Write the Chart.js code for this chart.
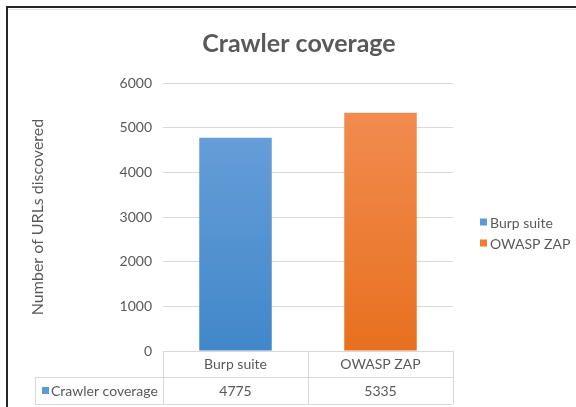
<!DOCTYPE html>
<html lang="en">
<head>
  <meta charset="UTF-8">
  <title>Crawler coverage</title>
  <script src="https://cdn.jsdelivr.net/npm/chart.js"></script>
  <style>
    html, body { margin: 0; padding: 0; background: #fff; }
    #wrap { position: relative; width: 576px; height: 407px; }
  </style>
</head>
<body>
  <div id="wrap"><canvas id="coverageChart"></canvas></div>

  <script>
    // Data
    const categories = ['Burp suite', 'OWASP ZAP'];
    const coverage = [4775, 5335];
    const seriesName = 'Crawler coverage';
    const yMax = 6000;
    const yStep = 1000;

    // Colours
    const topColors = ['#6fa3dc', '#f28f55'];
    const bottomColors = ['#4187c9', '#e8701f'];
    const keyColors = ['#5b9bd5', '#ed7d31'];
    const textColor = '#595959';
    const lineColor = '#d9d9d9';
    const font = 'Lato';

    // white page + black frame like the spreadsheet crop
    const framePlugin = {
      id: 'frame',
      beforeDraw(chart) {
        const ctx = chart.ctx;
        ctx.save();
        ctx.fillStyle = '#fff';
        ctx.fillRect(0, 0, chart.width, chart.height);
        ctx.strokeStyle = '#e6e6e6';
        ctx.lineWidth = 1;
        ctx.beginPath();
        ctx.moveTo(8, 9.5); ctx.lineTo(chart.width, 9.5);
        ctx.stroke();
        ctx.strokeStyle = '#262626';
        ctx.lineWidth = 2;
        ctx.beginPath();
        ctx.moveTo(7, chart.height); ctx.lineTo(7, 7); ctx.lineTo(chart.width, 7);
        ctx.stroke();
        ctx.restore();
      }
    };

    // data table under the x axis + legend on the right
    const tablePlugin = {
      id: 'dataTable',
      afterDraw(chart) {
        const ctx = chart.ctx;
        const x = chart.scales.x;
        const a = chart.chartArea;
        const step = x.getPixelForValue(1) - x.getPixelForValue(0);
        const edges = [x.getPixelForValue(0) - step / 2];
        categories.forEach((c, i) => edges.push(x.getPixelForValue(i) + step / 2));
        const y0 = a.bottom, y1 = a.bottom + 26, y2 = a.bottom + 53;
        const labelLeft = 35;

        ctx.save();
        ctx.strokeStyle = lineColor;
        ctx.lineWidth = 1;
        ctx.beginPath();
        edges.forEach(e => { ctx.moveTo(Math.round(e) + 0.5, y0); ctx.lineTo(Math.round(e) + 0.5, y2); });
        ctx.moveTo(labelLeft + 0.5, y1); ctx.lineTo(labelLeft + 0.5, y2);
        ctx.moveTo(labelLeft, y1 + 0.5); ctx.lineTo(edges[edges.length - 1], y1 + 0.5);
        ctx.moveTo(labelLeft, y2 + 0.5); ctx.lineTo(edges[edges.length - 1], y2 + 0.5);
        ctx.stroke();

        const ym = (y1 + y2) / 2;
        ctx.font = '14px ' + font;
        ctx.textBaseline = 'middle';
        ctx.fillStyle = keyColors[0];
        ctx.fillRect(labelLeft + 7, ym - 3.5, 7, 7);
        ctx.fillStyle = textColor;
        ctx.textAlign = 'left';
        ctx.fillText(seriesName, labelLeft + 16, ym + 1);
        ctx.textAlign = 'center';
        coverage.forEach((v, i) => ctx.fillText(String(v), x.getPixelForValue(i), ym + 1));

        // legend
        const lx = a.right + 27;
        categories.forEach((c, i) => {
          const ly = a.top + 139 + i * 21;
          ctx.fillStyle = keyColors[i];
          ctx.fillRect(lx, ly - 3.5, 7, 7);
          ctx.fillStyle = textColor;
          ctx.textAlign = 'left';
          ctx.fillText(c, lx + 10, ly + 1);
        });
        ctx.restore();
      }
    };

    new Chart('coverageChart', {
      type: 'bar',
      data: {
        labels: categories,
        datasets: [{
          label: seriesName,
          data: coverage,
          backgroundColor: (c) => {
            const a = c.chart.chartArea;
            if (!a) return keyColors[c.dataIndex];
            const g = c.chart.ctx.createLinearGradient(0, a.top, 0, a.bottom);
            g.addColorStop(0, topColors[c.dataIndex]);
            g.addColorStop(1, bottomColors[c.dataIndex]);
            return g;
          },
          categoryPercentage: 1,
          barPercentage: 0.5
        }]
      },
      options: {
        responsive: true,
        maintainAspectRatio: false,
        animation: false,
        layout: { padding: { left: 22, right: 0, top: 0, bottom: 0 } },
        scales: {
          x: {
            grid: { display: false, drawTicks: false },
            border: { display: false },
            ticks: { color: textColor, font: { family: font, size: 14 }, padding: 5 },
            afterFit: s => { s.height = 56; }
          },
          y: {
            min: 0,
            max: yMax,
            grid: { color: lineColor, drawTicks: false },
            border: { display: false },
            ticks: {
              stepSize: yStep,
              color: textColor,
              font: { family: font, size: 14 },
              padding: 11,
              callback: v => String(v)
            },
            title: {
              display: true,
              text: 'Number of URLs discovered',
              color: textColor,
              font: { family: font, size: 16 },
              padding: { top: 6, bottom: 0 }
            },
            afterFit: s => { s.width = 141; }
          },
          // empty right-hand axis that only reserves room for the legend
          side: {
            type: 'linear',
            position: 'right',
            display: true,
            grid: { display: false },
            border: { display: false },
            ticks: { display: false },
            afterFit: s => { s.width = 123; }
          }
        },
        plugins: {
          legend: { display: false },
          tooltip: { enabled: false },
          title: {
            display: true,
            text: 'Crawler coverage',
            color: textColor,
            font: { family: font, size: 25, weight: 'bold' },
            padding: { top: 29, bottom: 24 }
          }
        }
      },
      plugins: [framePlugin, tablePlugin]
    });
  </script>
</body>
</html>
